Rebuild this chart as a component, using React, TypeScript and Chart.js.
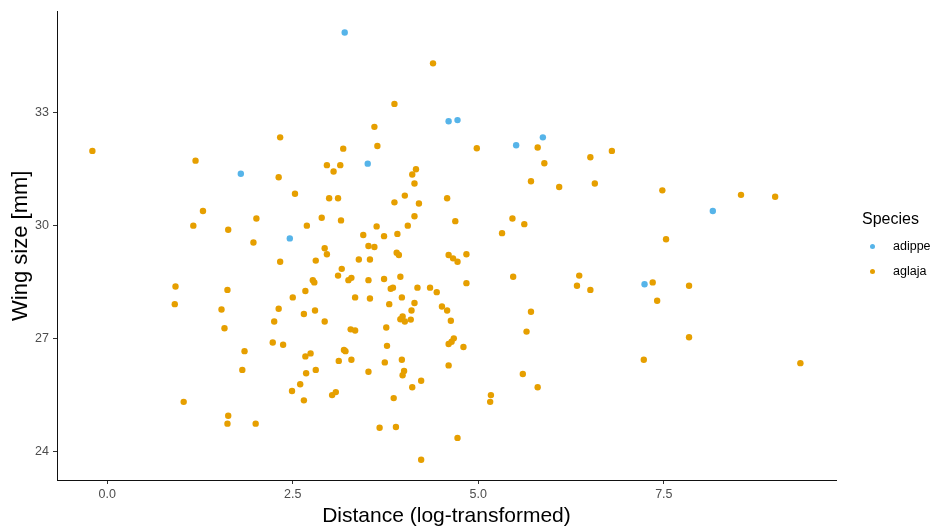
import React, { useEffect, useRef } from 'react';
import { Chart, registerables } from 'chart.js';

Chart.register(...registerables);

const speciesNames = ['adippe', 'aglaja'];
const speciesColors = ['#56B4E9', '#E69F00'];

const adippeX = [1.8, 2.46, 3.2, 4.6, 4.72, 5.51, 5.87, 3.51, 8.16, 7.24];
const adippeY = [31.38, 29.66, 35.14, 32.78, 32.81, 32.14, 32.35, 31.65, 30.39, 28.44];

const aglajaX = [
  -0.2, 2.33, 1.19, 2.31, 2.53, 1.29, 2.01, 1.16, 1.63, 2.69, 1.97,
  4.39, 3.87, 3.6, 3.18, 3.64, 4.98, 5.8, 5.89, 2.96, 3.14, 3.05, 4.16, 4.11, 4.14, 5.71, 6.09,
  2.99, 3.11, 4.01, 3.87, 4.2, 4.58, 2.89, 3.15, 4.14, 4.69, 4.05, 3.63, 3.91, 3.45, 3.73,
  5.46, 5.32, 5.62, 2.93, 3.52, 3.6,
  6.51, 6.8, 6.57, 7.48, 8.54, 9.0, 7.53,
  2.33, 0.92, 0.91, 1.62, 1.54, 1.58, 2.5, 2.67, 2.31, 2.65, 2.25, 2.23, 2.37, 1.85, 1.82,
  2.67, 2.68, 2.6, 2.49, 2.65, 1.03, 1.63, 1.62, 2.0,
  2.96, 3.9, 3.93, 4.6, 4.66, 4.72, 4.84, 2.81, 3.39, 3.54, 3.16, 3.11, 3.25, 3.29, 3.52,
  3.73, 3.95, 2.77, 2.79, 3.82, 3.85, 4.18, 4.35, 4.44, 4.84, 5.47, 3.34, 3.54, 3.97, 4.14,
  3.8, 4.1, 4.51, 4.58, 4.63, 2.8, 2.93, 3.28, 3.34, 3.76, 3.95, 3.98, 4.01, 4.09, 5.71,
  5.65, 3.77, 4.6, 4.64, 4.67, 4.8, 3.19, 3.21, 2.74, 3.12, 3.29, 3.74, 3.97, 2.81, 3.52,
  4.0, 3.98, 4.6, 5.6, 4.11, 4.23, 5.8, 3.03, 3.08, 3.86, 5.17, 5.16, 3.67, 3.89, 4.72, 4.23,
  6.36, 6.33, 6.51, 7.35, 7.84, 7.41, 7.84, 7.23, 9.34,
];
const aglajaY = [
  31.99, 32.35, 31.73, 31.29, 30.85, 30.39, 30.19, 30.0, 29.89, 30.0, 29.55,
  34.32, 33.24, 32.63, 32.05, 32.12, 32.06, 32.08, 31.66, 31.61, 31.61, 31.44, 31.5, 31.36, 31.12, 31.18, 31.03,
  30.73, 30.73, 30.8, 30.62, 30.59, 30.73, 30.21, 30.14, 30.25, 30.12, 30.0, 29.98, 29.78, 29.75, 29.72,
  30.19, 29.8, 30.04, 29.4, 29.46, 29.43,
  31.82, 31.99, 31.12, 30.94, 30.82, 30.77, 29.64,
  29.04, 28.38, 27.91, 28.29, 27.77, 27.27, 28.09, 28.26, 27.79, 27.65, 27.45, 26.89, 26.83, 26.66, 26.16,
  26.52, 26.07, 25.78, 25.6, 25.35, 25.31, 24.94, 24.73, 24.73,
  29.24, 29.28, 29.22, 29.22, 29.13, 29.04, 29.24, 29.07, 29.1, 29.1, 28.85, 28.67, 28.55, 28.61, 28.55,
  28.58, 28.64, 28.55, 28.49, 28.32, 28.35, 28.35, 28.35, 28.23, 28.47, 28.64, 28.09, 28.06, 28.09, 27.94,
  27.91, 27.74, 27.85, 27.74, 27.47, 27.74, 27.45, 27.24, 27.21, 27.29, 27.51, 27.58, 27.45, 27.5, 27.71,
  27.18, 26.8, 26.85, 26.91, 27.0, 26.77, 26.69, 26.66, 26.6, 26.4, 26.43, 26.36, 26.43, 26.16, 26.11,
  26.13, 26.02, 26.28, 26.05, 25.7, 25.87, 25.7, 25.49, 25.57, 25.41, 25.49, 25.31, 24.62, 24.64, 24.35, 23.77,
  28.67, 28.4, 28.29, 28.49, 28.4, 28.0, 27.03, 26.43, 26.34,
];

const xTicks = [0, 2.5, 5, 7.5];
const yTicks = [24, 27, 30, 33];
const xTitle = 'Distance (log-transformed)';
const yTitle = 'Wing size [mm]';
const legendTitle = 'Species';

const FONT = '"Liberation Sans", Arial, Helvetica, sans-serif';

function toPoints(xs: number[], ys: number[]) {
  return xs.map((x, i) => ({ x, y: ys[i] }));
}

export default function App() {
  const canvasRef = useRef<HTMLCanvasElement | null>(null);

  useEffect(() => {
    if (!canvasRef.current) return;
    const series = [toPoints(adippeX, adippeY), toPoints(aglajaX, aglajaY)];
    const chart = new Chart(canvasRef.current, {
      type: 'scatter',
      data: {
        datasets: speciesNames.map((name, i) => ({
          label: name,
          data: series[i],
          backgroundColor: speciesColors[i],
          borderColor: speciesColors[i],
          borderWidth: 0,
          pointRadius: 3.2,
          pointHoverRadius: 3.2,
        })),
      },
      options: {
        animation: false,
        responsive: false,
        maintainAspectRatio: false,
        layout: { padding: { top: 11, right: 100, bottom: 0, left: 0 } },
        plugins: {
          legend: { display: false },
          tooltip: { enabled: false },
        },
        scales: {
          x: {
            type: 'linear',
            position: 'bottom',
            min: -0.677,
            max: 9.82,
            afterBuildTicks: (s: any) => {
              s.ticks = xTicks.map((v) => ({ value: v }));
            },
            afterFit: (s: any) => {
              s.height = 49;
            },
            ticks: {
              callback: (v: any) => Number(v).toFixed(1),
              color: '#4D4D4D',
              font: { family: FONT, size: 12.5 },
              padding: 3,
              maxRotation: 0,
              autoSkip: false,
            },
            grid: {
              display: true,
              drawOnChartArea: false,
              drawTicks: true,
              tickLength: 4,
              color: '#333333',
              lineWidth: 1,
            },
            border: { display: true, color: '#111111', width: 1 },
            title: {
              display: true,
              text: xTitle,
              color: '#000000',
              font: { family: FONT, size: 21, lineHeight: 1.2 },
              padding: { top: 0, bottom: 0 },
            },
          },
          y: {
            type: 'linear',
            position: 'left',
            min: 23.23,
            max: 35.7,
            afterBuildTicks: (s: any) => {
              s.ticks = yTicks.map((v) => ({ value: v }));
            },
            afterFit: (s: any) => {
              s.width = 57;
            },
            ticks: {
              callback: (v: any) => String(v),
              color: '#4D4D4D',
              font: { family: FONT, size: 12.5 },
              padding: 4,
              autoSkip: false,
            },
            grid: {
              display: true,
              drawOnChartArea: false,
              drawTicks: true,
              tickLength: 4,
              color: '#333333',
              lineWidth: 1,
            },
            border: { display: true, color: '#111111', width: 1 },
            title: {
              display: true,
              text: yTitle,
              color: '#000000',
              font: { family: FONT, size: 22, lineHeight: 1.2 },
              padding: { top: 8, bottom: 0 },
            },
          },
        },
      },
    });
    return () => chart.destroy();
  }, []);

  return (
    <div style={{ position: 'absolute', left: 0, top: 0, width: 936, height: 529, background: '#ffffff' }}>
      <canvas ref={canvasRef} width={936} height={529} style={{ display: 'block', width: 936, height: 529 }} />
      <div
        style={{
          position: 'absolute',
          left: 862,
          top: 209,
          fontFamily: FONT,
          fontSize: 16,
          lineHeight: '20px',
          color: '#000',
          whiteSpace: 'nowrap',
        }}
      >
        {legendTitle}
      </div>
      {speciesNames.map((name, i) => (
        <React.Fragment key={name}>
          <div
            style={{
              position: 'absolute',
              left: 870.2,
              top: 244.2 + 25 * i,
              width: 5,
              height: 5,
              borderRadius: '50%',
              background: speciesColors[i],
            }}
          />
          <div
            style={{
              position: 'absolute',
              left: 893,
              top: 238 + 25 * i,
              fontFamily: FONT,
              fontSize: 12.5,
              lineHeight: '16px',
              color: '#000',
              whiteSpace: 'nowrap',
            }}
          >
            {name}
          </div>
        </React.Fragment>
      ))}
    </div>
  );
}
